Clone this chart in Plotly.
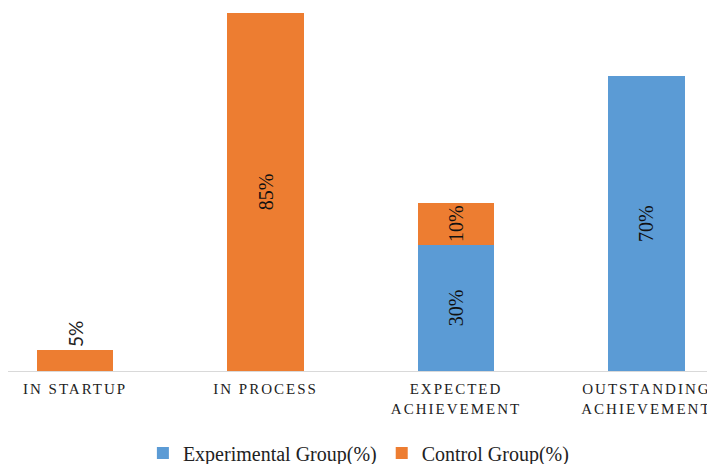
import plotly.graph_objects as go

categories = ["IN STARTUP", "IN PROCESS", "EXPECTED<br>ACHIEVEMENT", "OUTSTANDING<br>ACHIEVEMENT"]
experimental = [0, 0, 30, 70]
control = [5, 85, 10, 0]

BLUE = "#5B9BD5"
ORANGE = "#ED7D31"
SERIF = "Liberation Serif"

def labels(vals):
    return [f"{v}%" if v else "" for v in vals]

fig = go.Figure()
fig.add_trace(go.Bar(
    x=categories, y=experimental, name="Experimental Group(%)",
    marker=dict(color=BLUE, line=dict(width=0)),
    text=labels(experimental), textposition="inside", textangle=-90,
    insidetextanchor="middle", constraintext="none",
    insidetextfont=dict(family=SERIF, size=20, color="#111111"),
    hoverinfo="skip",
))
fig.add_trace(go.Bar(
    x=categories, y=control, name="Control Group(%)",
    marker=dict(color=ORANGE, line=dict(width=0)),
    text=labels(control),
    textposition=["outside" if 0 < v < 20 and i == 0 else "inside" for i, v in enumerate(control)],
    textangle=-90, insidetextanchor="middle", constraintext="none",
    insidetextfont=dict(family=SERIF, size=20, color="#111111"),
    outsidetextfont=dict(family="Lato", size=19, color="#222222"),
    cliponaxis=False,
    hoverinfo="skip",
))

fig.update_layout(
    width=707, height=464,
    margin=dict(l=8, r=0, t=0, b=93, autoexpand=False),
    barmode="stack", bargap=0.6,
    paper_bgcolor="white", plot_bgcolor="white",
    showlegend=True,
    legend=dict(
        orientation="h", x=0.502, xanchor="center", y=-0.221, yanchor="middle",
        font=dict(family=SERIF, size=20, color="#222222"),
        itemwidth=30, traceorder="normal",
    ),
    xaxis=dict(
        range=[-0.352, 3.318], showgrid=False, zeroline=False,
        showline=True, linecolor="#D9D9D9", linewidth=1,
        ticks="", tickfont=dict(family=SERIF, size=15, color="#222222"),
        ticklabelstandoff=4, automargin=False,
    ),
    yaxis=dict(range=[0, 88.1], visible=False, showgrid=False, zeroline=False,
               automargin=False),
)

spacing_js = """
function spaceTicks(){
  document.querySelectorAll('.xtick text').forEach(function(t){
    t.style.letterSpacing = '2px';
  });
}
spaceTicks();
var gd = document.getElementById('{plot_id}');
gd.on('plotly_afterplot', spaceTicks);
"""

fig.write_html("out.html", post_script=spacing_js)
